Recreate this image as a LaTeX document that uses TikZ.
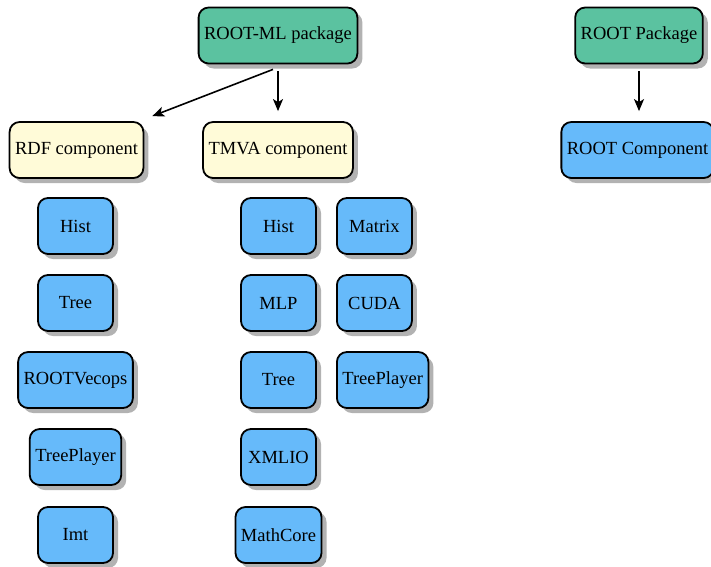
\documentclass[tikz,border=0pt]{standalone}
\usepackage{fontspec}
\setmainfont{Liberation Serif}
\usetikzlibrary{shadows,arrows.meta}
\definecolor{pkggreen}{RGB}{91,194,160}
\definecolor{compyellow}{RGB}{255,251,216}
\definecolor{libblue}{RGB}{102,186,250}
\begin{document}
\begin{tikzpicture}[x=1pt,y=1pt]
\tikzstyle{every node}+=[font=\fontsize{18.5}{22}\selectfont]
\tikzstyle{box}=[draw=black,line width=1.8pt,rounded corners=10pt,inner xsep=5.5pt,minimum height=56pt,minimum width=75pt,drop shadow={shadow xshift=5pt,shadow yshift=-5pt,fill=black!30,opacity=1}]
\tikzstyle{pkg}=[box,fill=pkggreen]
\tikzstyle{comp}=[box,fill=compyellow]
\tikzstyle{lib}=[box,fill=libblue]
\tikzstyle{arr}=[-{Stealth[length=12pt,width=10pt,inset=3pt]},line width=1.6pt,shorten <=7pt,shorten >=10pt]
\useasboundingbox (0,0) rectangle (711,-566);
\node [pkg] (mlpkg) at (278,-35.5) {ROOT-ML package};
\node [pkg] (rootpkg) at (639,-35.5) {ROOT Package};
\node [comp] (rdf) at (76.5,-150) {RDF component};
\node [comp] (tmva) at (278,-150) {TMVA component};
\node [lib] (rootcomp) at (637.5,-150) {ROOT Component};
\node [lib] (rdfhist) at (75.5,-226) {Hist};
\node [lib] (rdftree) at (75.5,-303) {Tree};
\node [lib] (rdfvecops) at (75.5,-380) {ROOTVecops};
\node [lib] (rdfplayer) at (75.5,-457) {TreePlayer};
\node [lib] (rdfimt) at (75.5,-535) {Imt};
\node [lib] (tmvahist) at (278.5,-226) {Hist};
\node [lib] (tmvamlp) at (278.5,-303) {MLP};
\node [lib] (tmvatree) at (278.5,-380) {Tree};
\node [lib] (tmvaxml) at (278.5,-457) {XMLIO};
\node [lib] (tmvamath) at (278.5,-535) {MathCore};
\node [lib,anchor=west] (tmvamatrix) at (336,-226) {Matrix};
\node [lib,anchor=west] (tmvacuda) at (336,-303) {CUDA};
\node [lib,anchor=west] (tmvaplayer) at (336,-380) {TreePlayer};
\draw [arr] (mlpkg.south) -- (tmva.north);
\draw [arr,shorten <=0pt,shorten >=0pt] ([xshift=-5pt,yshift=-5pt]mlpkg.south) -- ([xshift=8pt,yshift=5pt]rdf.north east);
\draw [arr] (rootpkg.south) -- (rootpkg.south |- rootcomp.north);
\end{tikzpicture}
\end{document}
